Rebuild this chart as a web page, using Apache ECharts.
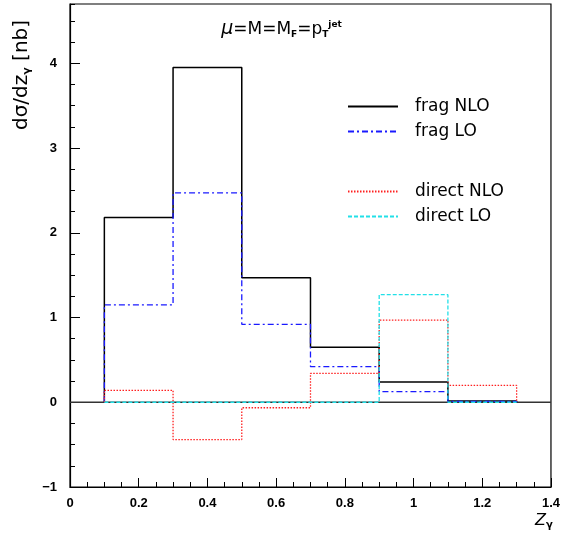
<!DOCTYPE html>
<html>
<head>
<meta charset="utf-8">
<script src="https://cdn.jsdelivr.net/npm/echarts@6/dist/echarts.min.js"></script>
<style>html,body{margin:0;padding:0;background:#fff}#c{width:563px;height:533px}</style>
</head>
<body>
<div id="c"></div>
<script>
// Bin edges of the histograms (z_gamma)
const binEdges = [0.1, 0.3, 0.5, 0.7, 0.9, 1.1, 1.3];
// Series values per bin (nb)
const fragNLO   = [2.18, 3.95, 1.47, 0.65, 0.24, 0.015];
const fragLO    = [1.15, 2.47, 0.92, 0.42, 0.126, 0.01];
const directNLO = [0.14, -0.44, -0.065, 0.34, 0.97, 0.20];
const directLO  = [0, 0, 0, 0, 1.27, 0];
const xTicks = [0, 0.2, 0.4, 0.6, 0.8, 1, 1.2, 1.4];
const yTicks = [-1, 0, 1, 2, 3, 4];

function stepData(vals) {
  const d = [[binEdges[0], 0]];
  vals.forEach((v, i) => d.push([binEdges[i], v]));
  d.push([binEdges[binEdges.length - 1], 0]);
  return d;
}

const chart = echarts.init(document.getElementById('c'));
const tickFont = {fontFamily: 'Liberation Sans', fontWeight: 'bold', fontSize: 13, color: '#000'};
const legendText = {fontFamily: 'DejaVu Sans', fontSize: 17, color: '#000', padding: [0, 0, 0, 12]};
const legendCommon = {
  orient: 'vertical', left: 347, padding: 0, itemWidth: 50, itemHeight: 14, itemGap: 8,
  textStyle: legendText, selectedMode: false,
  itemStyle: {color: 'transparent', borderColor: 'transparent', borderWidth: 0}
};

function series(name, vals, color, type, width) {
  return {
    name: name, type: 'line', step: 'end', data: stepData(vals),
    symbol: 'none', silent: true, animation: false, z: 3,
    lineStyle: {color: color, width: width, type: type},
    itemStyle: {color: color}
  };
}

chart.setOption({
  animation: false,
  grid: {left: 70, right: 10, top: 4, bottom: 46, show: true, borderColor: '#000', borderWidth: 1.2},
  xAxis: [{
    type: 'value', min: xTicks[0], max: xTicks[xTicks.length - 1], interval: 0.2,
    axisLine: {show: true, onZero: false, lineStyle: {color: '#000', width: 1.2}},
    axisTick: {show: true, inside: true, length: 9, lineStyle: {color: '#000'}},
    minorTick: {show: true, splitNumber: 4, length: 5, lineStyle: {color: '#000'}},
    splitLine: {show: false},
    axisLabel: Object.assign({margin: 10, formatter: v => String(+v.toFixed(2))}, tickFont)
  }],
  yAxis: [{
    type: 'value', min: yTicks[0], max: 4.7, interval: 1,
    axisLine: {show: true, onZero: false, lineStyle: {color: '#000', width: 1.2}},
    axisTick: {show: true, inside: true, length: 10, lineStyle: {color: '#000'}},
    splitLine: {show: false},
    axisLabel: Object.assign({margin: 13, showMaxLabel: false, formatter: v => String(v).replace('-', '\u2212')}, tickFont)
  }, {
    type: 'value', min: yTicks[0], max: 4.7, interval: 0.25, position: 'left',
    axisLine: {show: false},
    axisTick: {show: true, inside: true, length: 5, lineStyle: {color: '#000'}},
    splitLine: {show: false},
    axisLabel: {show: false}
  }],
  legend: [
    Object.assign({data: ['frag NLO', 'frag LO'], top: 98}, legendCommon),
    Object.assign({data: ['direct NLO', 'direct LO'], top: 183}, legendCommon)
  ],
  graphic: [{
    type: 'text', left: 'center', top: 20,
    style: {
      text: '{i|μ}=M=M{s|F}=p{s|T}{u|jet}',
      font: '17px "DejaVu Sans"', fill: '#000',
      rich: {
        i: {fontFamily: 'DejaVu Sans', fontStyle: 'italic', fontSize: 19},
        s: {fontFamily: 'DejaVu Sans', fontSize: 9, fontWeight: 'bold', verticalAlign: 'bottom', padding: [8, 0, 0, 0]},
        u: {fontFamily: 'DejaVu Sans', fontSize: 9, fontWeight: 'bold', verticalAlign: 'top', padding: [0, 0, 10, 0]}
      }
    }
  }, {
    type: 'text', x: 22, y: 75, rotation: Math.PI / 2,
    style: {
      text: 'dσ/dz{s|γ} [nb]', font: '20px "DejaVu Sans"', fill: '#000',
      align: 'center', verticalAlign: 'middle',
      rich: {s: {fontFamily: 'DejaVu Sans', fontSize: 11, fontWeight: 'bold', padding: [10, 0, 0, 0]}}
    }
  }, {
    type: 'text', x: 535, y: 512,
    style: {
      text: 'Z{s|γ}', font: 'italic 16px "DejaVu Sans"', fill: '#000',
      rich: {s: {fontFamily: 'DejaVu Sans', fontSize: 10, fontWeight: 'bold', padding: [8, 0, 0, 0]}}
    }
  }],
  series: [
    {
      name: 'zero', type: 'line', data: [[xTicks[0], 0], [xTicks[xTicks.length - 1], 0]],
      symbol: 'none', silent: true, z: 2, lineStyle: {color: '#333', width: 1.5}
    },
    series('frag NLO', fragNLO, '#000', 'solid', 1.5),
    series('frag LO', fragLO, '#1a1aff', [6, 3, 2, 3], 1.3),
    series('direct NLO', directNLO, '#ff2020', [1.5, 1.5], 1.3),
    series('direct LO', directLO, '#22e0e8', [4, 2], 1.3)
  ]
});
</script>
</body>
</html>
